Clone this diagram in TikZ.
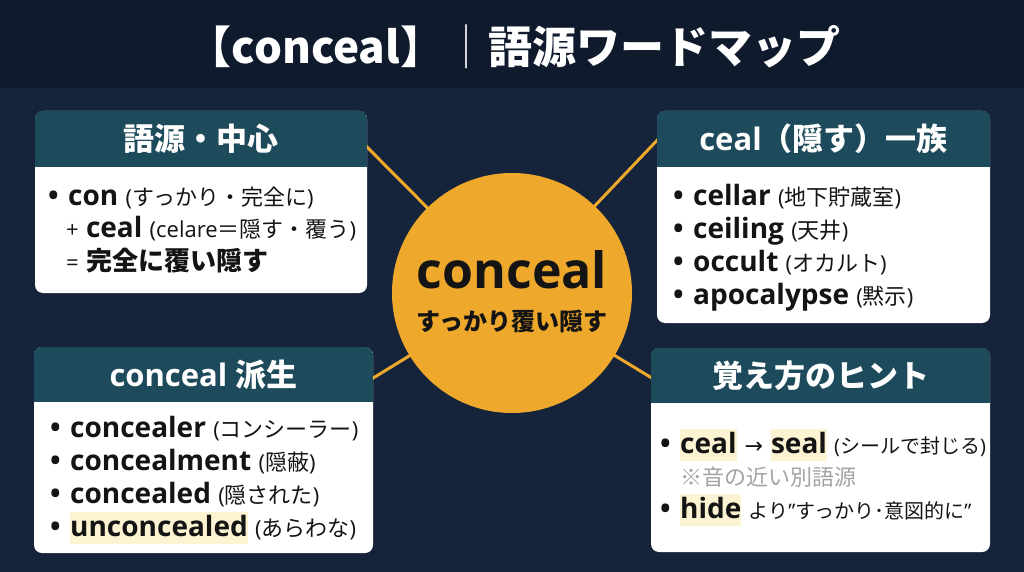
\documentclass[tikz,border=0pt]{standalone}
\usepackage{fontspec}
\setmainfont{Open Sans}
\newfontfamily\jpfont{Noto Sans CJK JP}
\newfontfamily\symfont{DejaVu Sans}
\usetikzlibrary{calc}

\definecolor{bgnavy}{HTML}{15243B}
\definecolor{bgband}{HTML}{0F1A2C}
\definecolor{headteal}{HTML}{1E4B5B}
\definecolor{hubgold}{HTML}{EEA82C}
\definecolor{inkdark}{HTML}{141414}
\definecolor{hlyellow}{HTML}{FCF3D2}
\definecolor{notegray}{HTML}{A3A3A3}

\newcommand\ja[1]{{\jpfont #1}}
\newcommand\kw[1]{{\bfseries #1}}
\newcommand\paren[1]{{\fontsize{22}{26}\selectfont #1}}
\newcommand\smparen[1]{{\fontsize{20}{24}\selectfont #1}}
\newcommand\hl[1]{{\setlength\fboxsep{0pt}\colorbox{hlyellow}{\rule[-8pt]{0pt}{32pt}#1}}}
\newcommand\bul{\makebox[20pt][l]{\bfseries\textbullet}}

\tikzset{
  panel/.style={fill=white, rounded corners=8pt, inner sep=0pt},
  headtxt/.style={text=white, font=\fontsize{31}{36}\selectfont\bfseries, inner sep=0pt},
  item/.style={anchor=base west, inner sep=0pt, text=inkdark, font=\fontsize{28}{32}\selectfont},
  link/.style={draw=hubgold, line width=3pt},
}

\begin{document}
\begin{tikzpicture}[x=1pt, y=-1pt]

	\useasboundingbox (0,0) rectangle (1024,572);
	\fill[bgnavy] (0,0) rectangle (1024,572);
	\fill[bgband] (0,0) rectangle (1024,88);

	\node[text=white, font=\fontsize{44}{50}\selectfont\bfseries\jpfont] (title) at (514,47)
		{【conceal】{\mdseries\color{white!80!gray}｜}語源ワードマップ};

	% links from the hub
	\coordinate (hubc) at (512,293);
	\coordinate (rootsend) at (360,140);
	\coordinate (familyend) at (664,133);
	\coordinate (derivedend) at (365,383);
	\coordinate (hintsend) at (660,383);
	\draw[link] (hubc) -- (rootsend);
	\draw[link] (hubc) -- (familyend);
	\draw[link] (hubc) -- (derivedend);
	\draw[link] (hubc) -- (hintsend);

	\node[circle, fill=hubgold, minimum size=240pt, inner sep=0pt] (hub) at (hubc) {};
	\node[anchor=base, inner sep=0pt, text=inkdark, font=\fontsize{50}{58}\selectfont\bfseries] (hubword) at (512,288) {conceal};
	\node[anchor=base, inner sep=0pt, text=inkdark, font=\fontsize{24}{28}\selectfont\bfseries\jpfont] (hubmean) at (512,330) {すっかり覆い隠す};

	% roots
	\node[panel, minimum width=332pt, minimum height=182pt] (roots) at (201,202) {};
	\begin{scope}
		\clip[rounded corners=8pt] (roots.north west) rectangle (roots.south east);
		\fill[headteal] (roots.north west) rectangle ($(roots.north east)+(0,56)$);
	\end{scope}
	\node[headtxt] (rootsh) at ($(roots.north)+(0,28)$) {\ja{語源・中心}};
	\node[item] (roots1) at (48,205) {\bul\kw{con} \paren{(\ja{すっかり・完全に})}};
	\node[item] (roots2) at (66,237) {\paren{+} \kw{ceal} \paren{(celare\ja{＝隠す・覆う})}};
	\node[item] (roots3) at (66,270) {\paren{=} {\fontsize{26}{30}\selectfont\kw{\ja{完全に覆い隠す}}}};

	% ceal family
	\node[panel, minimum width=333pt, minimum height=212pt] (family) at (823.5,217) {};
	\begin{scope}
		\clip[rounded corners=8pt] (family.north west) rectangle (family.south east);
		\fill[headteal] (family.north west) rectangle ($(family.north east)+(0,56)$);
	\end{scope}
	\node[headtxt] (familyh) at ($(family.north)+(0,28)$) {ceal\ja{（隠す）一族}};
	\node[item] (family1) at (673,205) {\bul\kw{cellar} \paren{(\ja{地下貯蔵室})}};
	\node[item] (family2) at (673,238) {\bul\kw{ceiling} \paren{(\ja{天井})}};
	\node[item] (family3) at (673,271) {\bul\kw{occult} \paren{(\ja{オカルト})}};
	\node[item] (family4) at (673,304) {\bul\kw{apocalypse} \paren{(\ja{黙示})}};

	% derived words
	\node[panel, minimum width=339pt, minimum height=206pt] (derived) at (203.5,450) {};
	\begin{scope}
		\clip[rounded corners=8pt] (derived.north west) rectangle (derived.south east);
		\fill[headteal] (derived.north west) rectangle ($(derived.north east)+(0,55)$);
	\end{scope}
	\node[headtxt] (derivedh) at ($(derived.north)+(0,28)$) {conceal \ja{派生}};
	\node[item] (derived1) at (50,437) {\bul\kw{concealer} \paren{(\ja{コンシーラー})}};
	\node[item] (derived2) at (50,470) {\bul\kw{concealment} \paren{(\ja{隠蔽})}};
	\node[item] (derived3) at (50,503) {\bul\kw{concealed} \paren{(\ja{隠された})}};
	\node[item] (derived4) at (50,536) {\bul\hl{\kw{unconcealed}} \paren{(\ja{あらわな})}};

	% memory hints
	\node[panel, minimum width=339pt, minimum height=204pt] (hints) at (820.5,450) {};
	\begin{scope}
		\clip[rounded corners=8pt] (hints.north west) rectangle (hints.south east);
		\fill[headteal] (hints.north west) rectangle ($(hints.north east)+(0,55)$);
	\end{scope}
	\node[headtxt] (hintsh) at ($(hints.north)+(0,28)$) {\ja{覚え方のヒント}};
	\node[item] (hints1) at (660,453) {\bul\hl{\kw{ceal}}\hspace{8pt}{\symfont\fontsize{22}{26}\selectfont →}\hspace{8pt}\hl{\kw{seal}} \smparen{(\ja{シールで封じる})}};
	\node[item, text=notegray] (hints2) at (680,485) {\paren{\ja{※音の近い別語源}}};
	\node[item] (hints3) at (660,518) {\bul\hl{\kw{hide}} \smparen{\ja{より}"\ja{すっかり･意図的に}"}};

\end{tikzpicture}
\end{document}
